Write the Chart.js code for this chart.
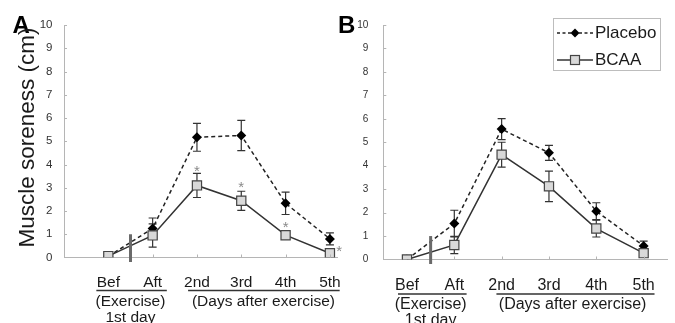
<!DOCTYPE html>
<html>
<head>
<meta charset="utf-8">
<script src="https://cdn.jsdelivr.net/npm/chart.js@4.4.1/dist/chart.umd.min.js"></script>
<style>
  html, body { margin: 0; padding: 0; background: #fff; }
  #wrap { position: relative; width: 675px; height: 323px; overflow: hidden; }
  canvas { position: absolute; top: 0; }
  #panelA { left: 0; }
  #panelB { left: 335px; }
</style>
</head>
<body>
<div id="wrap">
  <canvas id="panelA" width="345" height="323"></canvas>
  <canvas id="panelB" width="340" height="323"></canvas>
</div>
<script>
const categories = ["Bef", "Aft", "2nd", "3rd", "4th", "5th"];
const groupLabels = ["(Exercise)", "(Days after exercise)"];
const subLabel = "1st day";
const yTitle = "Muscle soreness (cm)";
const seriesNames = ["Placebo", "BCAA"];

// panel A
const placeboA = [0.05, 1.25, 5.17, 5.25, 2.33, 0.8];
const placeboAErr = [0, 0.45, 0.6, 0.65, 0.48, 0.26];
const bcaaA = [0.06, 0.95, 3.1, 2.44, 0.96, 0.18];
const bcaaAErr = [0, 0.5, 0.52, 0.41, 0.1, 0.06];
const starsA = [[2, 3.85], [3, 3.15], [4, 1.45], [5.21, 0.4]];

// panel B
const placeboB = [0, 1.53, 5.56, 4.55, 2.06, 0.58];
const placeboBErr = [0, 0.57, 0.45, 0.32, 0.36, 0.2];
const bcaaB = [0, 0.62, 4.47, 3.12, 1.32, 0.27];
const bcaaBErr = [0, 0.37, 0.53, 0.65, 0.36, 0.08];

const FONT = "'Liberation Sans', Arial, sans-serif";
const AXIS = "#b5b5b5";

function drawDiamond(ctx, x, y, r) {
  ctx.beginPath();
  ctx.moveTo(x, y - r); ctx.lineTo(x + r, y); ctx.lineTo(x, y + r); ctx.lineTo(x - r, y);
  ctx.closePath();
  ctx.fillStyle = "#000";
  ctx.fill();
}

const decor = {
  id: "decor",
  beforeDatasetsDraw(chart, args, o) {
    const { ctx, scales: { x, y } } = chart;
    ctx.save();
    ctx.strokeStyle = "#333";
    ctx.lineWidth = 1.2;
    chart.data.datasets.forEach(ds => {
      ds.data.forEach((p, i) => {
        const e = ds.err[i];
        if (!e) return;
        const px = x.getPixelForValue(p.x);
        const t = y.getPixelForValue(p.y + e);
        const b = y.getPixelForValue(p.y - e);
        ctx.beginPath();
        ctx.moveTo(px, t); ctx.lineTo(px, b);
        ctx.moveTo(px - 4, t); ctx.lineTo(px + 4, t);
        ctx.moveTo(px - 4, b); ctx.lineTo(px + 4, b);
        ctx.stroke();
      });
    });
    ctx.restore();
  },
  afterDraw(chart, args, o) {
    const { ctx, chartArea: ca, scales: { x, y } } = chart;
    ctx.save();

    // inward tick marks
    ctx.strokeStyle = AXIS;
    ctx.lineWidth = 1;
    ctx.beginPath();
    for (let v = 1; v <= 10; v++) {
      const py = Math.round(y.getPixelForValue(v)) + 0.5;
      ctx.moveTo(ca.left, py); ctx.lineTo(ca.left + 3, py);
    }
    for (let i = 1; i < categories.length; i++) {
      const px = Math.round(x.getPixelForValue(i)) + 0.5;
      ctx.moveTo(px, ca.bottom); ctx.lineTo(px, ca.bottom - 3);
    }
    ctx.stroke();

    // axis break
    const bx = x.getPixelForValue(0.5);
    ctx.strokeStyle = "#6a6a6a";
    ctx.lineWidth = 3;
    ctx.beginPath();
    ctx.moveTo(bx, y.getPixelForValue(1.0));
    ctx.lineTo(bx, ca.bottom + 4.5);
    ctx.stroke();

    // category labels
    ctx.fillStyle = "#1a1a1a";
    ctx.font = o.labelSize + "px " + FONT;
    ctx.textAlign = "center";
    ctx.textBaseline = "middle";
    categories.forEach((c, i) => ctx.fillText(c, x.getPixelForValue(i), o.labelY));

    // group underlines
    ctx.strokeStyle = "#333";
    ctx.lineWidth = 1.3;
    ctx.beginPath();
    ctx.moveTo(x.getPixelForValue(o.g1[0]), o.lineY); ctx.lineTo(x.getPixelForValue(o.g1[1]), o.lineY);
    ctx.moveTo(x.getPixelForValue(o.g2[0]), o.lineY); ctx.lineTo(x.getPixelForValue(o.g2[1]), o.lineY);
    ctx.stroke();

    ctx.fillText(groupLabels[0], x.getPixelForValue(0.5), o.groupY);
    ctx.fillText(groupLabels[1], x.getPixelForValue(3.5), o.groupY);
    ctx.fillText(subLabel, x.getPixelForValue(0.5), o.groupY + 16);

    // panel letter
    ctx.font = "bold 24px " + FONT;
    ctx.textAlign = "left";
    ctx.textBaseline = "alphabetic";
    ctx.fillStyle = "#000";
    ctx.fillText(o.letter, o.letterX, 33);

    // y title
    if (o.title) {
      ctx.save();
      ctx.translate(o.titleX, o.titleY);
      ctx.rotate(-Math.PI / 2);
      ctx.font = "22.5px " + FONT;
      ctx.textAlign = "center";
      ctx.textBaseline = "middle";
      ctx.fillStyle = "#1a1a1a";
      ctx.fillText(yTitle, 0, 0);
      ctx.restore();
    }

    // significance marks
    if (o.stars) {
      ctx.fillStyle = "#8a8a8a";
      ctx.font = "15px " + FONT;
      ctx.textAlign = "center";
      ctx.textBaseline = "alphabetic";
      o.stars.forEach(s => ctx.fillText("*", x.getPixelForValue(s[0]), y.getPixelForValue(s[1]) + 8));
    }

    // legend
    if (o.legend) {
      const L = o.legend;
      ctx.strokeStyle = "#bdbdbd";
      ctx.lineWidth = 1;
      ctx.strokeRect(L.x + 0.5, L.y + 0.5, L.w, L.h);
      ctx.font = "17px " + FONT;
      ctx.textAlign = "left";
      ctx.textBaseline = "middle";
      ctx.fillStyle = "#1a1a1a";
      const rows = [L.y + 15, L.y + 42];
      // placebo
      ctx.strokeStyle = "#222";
      ctx.lineWidth = 1.4;
      ctx.setLineDash([3, 2.5]);
      ctx.beginPath(); ctx.moveTo(L.x + 4, rows[0]); ctx.lineTo(L.x + 40, rows[0]); ctx.stroke();
      ctx.setLineDash([]);
      drawDiamond(ctx, L.x + 22, rows[0], 4.5);
      ctx.fillStyle = "#1a1a1a";
      ctx.fillText(seriesNames[0], L.x + 42, rows[0]);
      // bcaa
      ctx.strokeStyle = "#333";
      ctx.beginPath(); ctx.moveTo(L.x + 4, rows[1]); ctx.lineTo(L.x + 40, rows[1]); ctx.stroke();
      ctx.fillStyle = "#d9d9d9";
      ctx.fillRect(L.x + 17.5, rows[1] - 4.5, 9, 9);
      ctx.strokeStyle = "#444";
      ctx.lineWidth = 1.2;
      ctx.strokeRect(L.x + 17.5, rows[1] - 4.5, 9, 9);
      ctx.fillStyle = "#1a1a1a";
      ctx.fillText(seriesNames[1], L.x + 42, rows[1]);
    }
    ctx.restore();
  }
};

function makeChart(id, cfg) {
  const ctx = document.getElementById(id).getContext("2d");
  return new Chart(ctx, {
    type: "line",
    data: {
      datasets: [
        {
          label: seriesNames[1],
          data: cfg.bcaa.map((v, i) => ({ x: i, y: v })),
          err: cfg.bcaaErr,
          borderColor: "#333",
          borderWidth: 1.5,
          pointStyle: "rect",
          pointRadius: 6.5,
          pointBackgroundColor: "#d9d9d9",
          pointBorderColor: "#444",
          pointBorderWidth: 1.2,
          tension: 0
        },
        {
          label: seriesNames[0],
          data: cfg.placebo.map((v, i) => ({ x: i, y: v })),
          err: cfg.placeboErr,
          borderColor: "#222",
          borderWidth: 1.5,
          borderDash: [4, 3],
          pointStyle: "rectRot",
          pointRadius: 5,
          pointBackgroundColor: "#000",
          pointBorderColor: "#000",
          pointBorderWidth: 0,
          tension: 0
        }
      ]
    },
    options: {
      responsive: false,
      animation: false,
      events: [],
      layout: { padding: { top: 25, right: cfg.padRight, left: 0, bottom: 0 } },
      plugins: { legend: { display: false }, tooltip: { enabled: false }, decor: cfg },
      scales: {
        x: {
          type: "linear", min: cfg.xMin, max: cfg.xMax,
          grid: { display: false },
          ticks: { display: false },
          border: { color: AXIS, width: 1 },
          afterFit: s => { s.height = cfg.xHeight; }
        },
        y: {
          min: 0, max: 10,
          ticks: { stepSize: 1, color: "#333", padding: cfg.tickPad, font: { family: FONT, size: cfg.tickSize } },
          grid: { display: false },
          border: { color: AXIS, width: 1 },
          afterFit: s => { s.width = cfg.yWidth; }
        }
      }
    },
    plugins: [decor]
  });
}

makeChart("panelA", {
  placebo: placeboA, placeboErr: placeboAErr, bcaa: bcaaA, bcaaErr: bcaaAErr,
  xMin: -1, xMax: 5.16, padRight: 8, xHeight: 65.5, yWidth: 64,
  tickPad: 3.5, tickSize: 11.5,
  labelSize: 15.5, labelY: 283, lineY: 290.5, groupY: 302,
  g1: [-0.27, 1.32], g2: [1.8, 5.22],
  letter: "A", letterX: 12.5,
  title: true, titleX: 27.5, titleY: 137.5,
  stars: starsA
});

makeChart("panelB", {
  placebo: placeboB, placeboErr: placeboBErr, bcaa: bcaaB, bcaaErr: bcaaBErr,
  xMin: -0.5, xMax: 5.5, padRight: 0, xHeight: 63.5, yWidth: 48.3,
  tickPad: 7, tickSize: 10,
  labelSize: 16, labelY: 285.5, lineY: 294, groupY: 305,
  g1: [-0.19, 1.26], g2: [1.89, 5.23],
  letter: "B", letterX: 3,
  title: false,
  legend: { x: 218, y: 18, w: 107, h: 52 }
});
</script>
</body>
</html>
